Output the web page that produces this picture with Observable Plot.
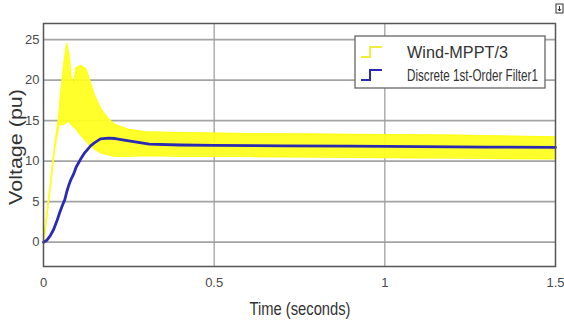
<!DOCTYPE html>
<html><head><meta charset="utf-8">
<script src="https://cdn.jsdelivr.net/npm/d3@7"></script>
<script src="https://cdn.jsdelivr.net/npm/@observablehq/plot@0.6"></script>
<style>
html,body{margin:0;padding:0;background:#fff;}
#chart{width:564px;height:320px;}
</style>
</head><body><div id="chart"></div>
<script>
// Wind-MPPT/3 (dense oscillation): upper / lower envelope over time
const windT  = [0, 0.01, 0.02, 0.032, 0.045, 0.05, 0.06, 0.068, 0.075, 0.08, 0.09, 0.095, 0.11, 0.125, 0.135, 0.15, 0.17, 0.19, 0.21, 0.25, 0.3, 0.4, 0.6, 0.9, 1.2, 1.5];
const windHi = [0, 3.5, 7, 11.5, 15.5, 18, 22, 24.5, 23, 20.5, 19.5, 21.5, 21.8, 21.3, 20, 18, 16.3, 15.2, 14.5, 13.9, 13.6, 13.5, 13.4, 13.3, 13.2, 13.0];
const windLo = [0, 3.5, 7, 11.5, 14.5, 14.5, 14.6, 14.8, 15, 14.6, 14.2, 14, 13.2, 12.5, 12, 11.5, 11, 10.8, 10.6, 10.6, 10.7, 10.6, 10.6, 10.5, 10.4, 10.3];
// Discrete 1st-Order Filter1
const filtT = [0, 0.01, 0.02, 0.03, 0.04, 0.047, 0.055, 0.062, 0.068, 0.073, 0.08, 0.088, 0.095, 0.1, 0.108, 0.12, 0.138, 0.15, 0.167, 0.19, 0.21, 0.25, 0.31, 0.4, 0.5, 0.7, 0.9, 1.1, 1.3, 1.5];
const filtV = [0, 0.25, 0.8, 1.6, 2.7, 3.6, 4.5, 5.2, 6.2, 6.9, 7.7, 8.4, 9.2, 9.6, 10.2, 11.0, 11.9, 12.3, 12.75, 12.85, 12.8, 12.5, 12.1, 12.0, 11.95, 11.9, 11.85, 11.8, 11.75, 11.7];
const xTicks = [0, 0.5, 1, 1.5];
const xTickLabels = ["0", "0.5", "1", "1.5"];
const yTicks = [0, 5, 10, 15, 20, 25];
const seriesNames = ["Wind-MPPT/3", "Discrete 1st-Order Filter1"];
const seriesColors = ["#ffff1a", "#2a2ab4"];
const xLabel = "Time (seconds)";
const yLabel = "Voltage (pu)";

const wind = windT.map((t, i) => ({t, hi: windHi[i], lo: windLo[i]}));
const filt = filtT.map((t, i) => ({t, v: filtV[i]}));

const font = "'Liberation Sans', Arial, sans-serif";

const plot = Plot.plot({
  width: 564, height: 320,
  marginLeft: 43, marginRight: 9, marginTop: 23, marginBottom: 54,
  style: {fontFamily: font, fontSize: "13px", color: "#4a4a4a", background: "#fff"},
  x: {domain: [0, 1.5], ticks: xTicks, tickFormat: (d, i) => xTickLabels[i], label: null, tickSize: 0, tickPadding: 11},
  y: {domain: [-3, 27], ticks: yTicks, label: null, tickSize: 0, tickPadding: 4},
  marks: [
    Plot.gridY(yTicks, {stroke: "#a4a4a4", strokeOpacity: 1, strokeWidth: 1.8}),
    Plot.gridX([0.5, 1], {stroke: "#9a9a9a", strokeOpacity: 1, strokeWidth: 1.2}),
    Plot.areaY(wind, {x: "t", y1: "lo", y2: "hi", fill: seriesColors[0], fillOpacity: 0.92}),
    Plot.line(wind, {x: "t", y: "hi", stroke: seriesColors[0], strokeWidth: 1.5}),
    Plot.line(wind, {x: "t", y: "lo", stroke: seriesColors[0], strokeWidth: 1.5}),
    Plot.line(filt, {x: "t", y: "v", stroke: seriesColors[1], strokeWidth: 2.8}),
    Plot.frame({stroke: "#555", strokeWidth: 1.5})
  ]
});
document.getElementById("chart").appendChild(plot);

const svg = d3.select(plot);

// helper: text squeezed horizontally to a target width (via transform)
function squeezed(parent, str, x, y, size, target, anchor, rotate) {
  const t = parent.append("text").attr("font-family", font).attr("font-size", size)
    .attr("fill", "#333").attr("text-anchor", anchor).text(str);
  const w = t.node().getComputedTextLength();
  const s = target / w;
  t.attr("transform", `translate(${x},${y})${rotate ? " rotate(-90)" : ""} scale(${s.toFixed(3)},1)`);
  return t;
}
// axis titles
squeezed(svg, xLabel, 300, 315, 18, 101, "middle", false);
squeezed(svg, yLabel, 22, 147, 18, 116, "middle", true);

// legend
const lg = svg.append("g");
lg.append("rect").attr("x", 355).attr("y", 36).attr("width", 190).attr("height", 52)
  .attr("fill", "#fff").attr("stroke", "#666").attr("stroke-width", 1.3);
const legendLen = [101, 131];
seriesNames.forEach((name, i) => {
  const cy = 52 + i * 23;
  lg.append("path").attr("d", `M361,${cy + 5} H370 V${cy - 5} H382`)
    .attr("fill", "none").attr("stroke", i === 0 ? "#eeee40" : seriesColors[1]).attr("stroke-width", 2);
  squeezed(lg, name, 407, cy + 6, 16, legendLen[i], "start", false);
});
// small corner icon
svg.append("rect").attr("x", 556).attr("y", 4).attr("width", 7).attr("height", 9)
  .attr("fill", "#fff").attr("stroke", "#333").attr("stroke-width", 1);
svg.append("path").attr("d", "M559.5,6 V11 M558,9 L559.5,11 L561,9").attr("stroke", "#333").attr("fill", "none");
</script>
</body></html>
